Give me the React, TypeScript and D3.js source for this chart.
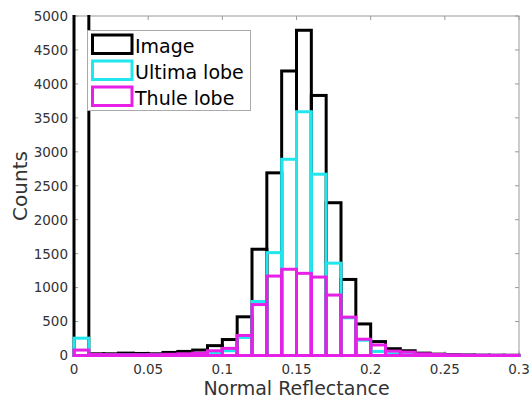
import React from "react";
import * as d3 from "d3";

const binEdges = d3.range(0, 31).map((i) => i / 100);
const imageCounts = [12000, 25, 25, 35, 30, 25, 45, 60, 80, 145, 235, 570, 1565, 2690, 4190, 4790, 3830, 2250, 1120, 465, 205, 100, 70, 35, 20, 12, 8, 5, 4, 3];
const ultimaCounts = [255, 10, 8, 8, 8, 8, 10, 15, 20, 45, 70, 265, 795, 1515, 2890, 3590, 2670, 1360, 555, 225, 60, 25, 12, 8, 5, 3, 2, 2, 1, 1];
const thuleCounts = [80, 15, 12, 10, 10, 12, 18, 25, 35, 70, 105, 295, 750, 1170, 1270, 1210, 1155, 890, 565, 240, 155, 65, 50, 25, 15, 8, 5, 3, 2, 2];
const xTicks = [0, 0.05, 0.1, 0.15, 0.2, 0.25, 0.3];
const xTickLabels = ["0", "0.05", "0.1", "0.15", "0.2", "0.25", "0.3"];
const yTicks = d3.range(0, 5001, 500);
const seriesNames = ["Image", "Ultima lobe", "Thule lobe"];
const seriesColors = ["#000000", "#22e6ee", "#e620e6"];

export default function App() {
  const W = 529, H = 400;
  const x = d3.scaleLinear().domain([0, 0.3]).range([74, 519]);
  const y = d3.scaleLinear().domain([0, 5000]).range([355.5, 16]);
  const font = "'DejaVu Sans', Verdana, sans-serif";
  const series = [imageCounts, ultimaCounts, thuleCounts];
  const [x0, x1] = x.range();
  const [yb, yt] = y.range();
  const tl = 4;

  return (
    <svg width={W} height={H} style={{ position: "absolute", left: 0, top: 0, background: "#fff" }}>
      <defs>
        <clipPath id="plotclip">
          <rect x={x0 - 2} y={yt - 1} width={x1 - x0 + 4} height={yb - yt + 2.5} />
        </clipPath>
      </defs>
      {/* axes box */}
      <rect x={x0} y={yt} width={x1 - x0} height={yb - yt} fill="#fff" stroke="#9a9a9a" strokeWidth={1} />
      {xTicks.map((t, i) => (
        <g key={"xt" + i}>
          <line x1={x(t)} x2={x(t)} y1={yb} y2={yb - tl} stroke="#9a9a9a" />
          <line x1={x(t)} x2={x(t)} y1={yt} y2={yt + tl} stroke="#9a9a9a" />
          <text x={x(t)} y={374} textAnchor="middle" fontFamily={font} fontSize={13.5} fill="#333">
            {xTickLabels[i]}
          </text>
        </g>
      ))}
      {yTicks.map((t, i) => (
        <g key={"yt" + i}>
          <line x1={x0} x2={x0 + tl} y1={y(t)} y2={y(t)} stroke="#9a9a9a" />
          <line x1={x1} x2={x1 - tl} y1={y(t)} y2={y(t)} stroke="#9a9a9a" />
          <text x={68} y={y(t)} dy="0.36em" textAnchor="end" fontFamily={font} fontSize={13.5} fill="#333">
            {t}
          </text>
        </g>
      ))}
      <g clipPath="url(#plotclip)">
        {series.map((vals, si) => (
          <g key={"s" + si}>
            {vals.map((v, bi) => (
              <rect
                key={bi}
                x={x(binEdges[bi])}
                y={y(v)}
                width={x(binEdges[bi + 1]) - x(binEdges[bi])}
                height={yb - y(v)}
                fill="none"
                stroke={seriesColors[si]}
                strokeWidth={3}
              />
            ))}
          </g>
        ))}
      </g>
      {/* legend */}
      <g>
        <rect x={87.5} y={30.5} width={163} height={80} fill="#fff" stroke="#aaaaaa" strokeWidth={1} />
        {seriesNames.map((name, i) => (
          <g key={"lg" + i}>
            <rect x={92.5} y={35 + i * 26} width={39.5} height={18.5} fill="#fff" stroke={seriesColors[i]} strokeWidth={3} />
            <text x={135} y={52.5 + i * 26} fontFamily={font} fontSize={19} fill="#000">
              {name}
            </text>
          </g>
        ))}
      </g>
      <text x={296.5} y={395} textAnchor="middle" fontFamily={font} fontSize={19} fill="#333">
        Normal Reflectance
      </text>
      <text transform="translate(27,186) rotate(-90)" textAnchor="middle" fontFamily={font} fontSize={20} fill="#333">
        Counts
      </text>
    </svg>
  );
}
